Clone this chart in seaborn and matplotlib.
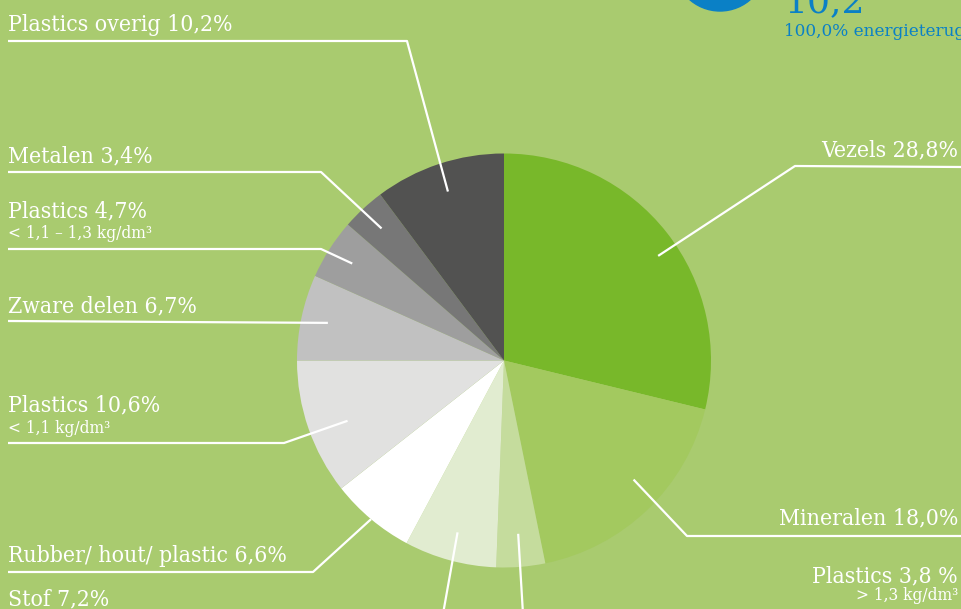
import numpy as np
import matplotlib
matplotlib.use("Agg")
import matplotlib.pyplot as plt
from matplotlib.patches import Circle
import seaborn as sns

# ---- data ----
labels = ["Vezels 28,8%", "Mineralen 18,0%", "Plastics 3,8 %", "Stof 7,2%",
          "Rubber/ hout/ plastic 6,6%", "Plastics 10,6%", "Zware delen 6,7%",
          "Plastics 4,7%", "Metalen 3,4%", "Plastics overig 10,2%"]
sublabels = ["", "", "> 1,3 kg/dm³", "", "", "< 1,1 kg/dm³", "",
             "< 1,1 – 1,3 kg/dm³", "", ""]
values = [28.8, 18.0, 3.8, 7.2, 6.6, 10.6, 6.7, 4.7, 3.4, 10.2]
colors = ["#78b82a", "#a3c95f", "#c5dc9d", "#e1ecd0", "#ffffff",
          "#e1e1e0", "#c1c1c1", "#9e9e9e", "#777777", "#525251"]
big_number = "10,2"
big_caption = "100,0% energieterug"

W, H = 962, 609
BG = "#a9cb6f"
BLUE = "#0a80c6"

sns.set_theme(style="white")
plt.rcParams['font.family'] = ['DejaVu Serif']

fig = plt.figure(figsize=(W / 100, H / 100), dpi=100, facecolor=BG)
ax = fig.add_axes([0, 0, 1, 1])
ax.set_facecolor(BG)

def Y(y):
    return H - y

cx, cy, R = 504, 360.5, 207
wedges, _ = ax.pie(values, colors=colors, startangle=90, counterclock=False,
                   center=(cx, Y(cy)), radius=R,
                   wedgeprops=dict(linewidth=0))
ax.set_xlim(0, W)
ax.set_ylim(0, H)
ax.set_aspect('equal')
ax.axis('off')

def anchor(i, frac, dtheta=0.0):
    w = wedges[i]
    mid = np.deg2rad((w.theta1 + w.theta2) / 2 + dtheta)
    return (cx + frac * R * np.cos(mid), Y(cy) + frac * R * np.sin(mid))

layout = {
    0: dict(tx=958, ty=156, ha='right', sy=None, path=[(962, 167), (795, 166)], frac=0.9, dt=-4),
    1: dict(tx=958, ty=524, ha='right', sy=None, path=[(962, 536), (687, 536)], frac=0.85, dt=3.5),
    2: dict(tx=958, ty=582, ha='right', sy=600, path=[(523, 614)], frac=0.84, dt=0),
    3: dict(tx=8, ty=605, ha='left', sy=None, path=[(443, 614)], frac=0.86, dt=0),
    4: dict(tx=8, ty=562, ha='left', sy=None, path=[(8, 572), (313, 572)], frac=1.0, dt=0),
    5: dict(tx=8, ty=411, ha='left', sy=433, path=[(8, 443), (284, 443)], frac=0.81, dt=2),
    6: dict(tx=8, ty=312, ha='left', sy=None, path=[(8, 321)], frac=0.87, dt=0),
    7: dict(tx=8, ty=217, ha='left', sy=238, path=[(8, 249), (321, 249)], frac=0.87, dt=0),
    8: dict(tx=8, ty=162, ha='left', sy=None, path=[(8, 172), (321, 172)], frac=0.87, dt=0),
    9: dict(tx=8, ty=31, ha='left', sy=None, path=[(8, 41), (407, 41)], frac=0.86, dt=0),
}

for i, lab in enumerate(labels):
    L = layout[i]
    ax.text(L['tx'], Y(L['ty']), lab, ha=L['ha'], va='baseline',
            color='white', fontsize=16.5, fontstretch='condensed')
    if sublabels[i]:
        ax.text(L['tx'], Y(L['sy']), sublabels[i], ha=L['ha'], va='baseline',
                color='white', fontsize=11.2)
    pts = [(x, Y(y)) for x, y in L['path']] + [anchor(i, L['frac'], L['dt'])]
    xs, ys = zip(*pts)
    ax.plot(xs, ys, color='white', lw=1.6, solid_capstyle='butt', clip_on=False)

# blue badge top right
ax.add_patch(Circle((720, Y(-35)), 46, color=BLUE, clip_on=True))
ax.text(785, Y(12), big_number, color=BLUE, fontsize=26, va='baseline', ha='left')
ax.text(784, Y(36), big_caption, color=BLUE, fontsize=12.2, va='baseline', ha='left')

fig.savefig("out.png", dpi=100, facecolor=BG)
